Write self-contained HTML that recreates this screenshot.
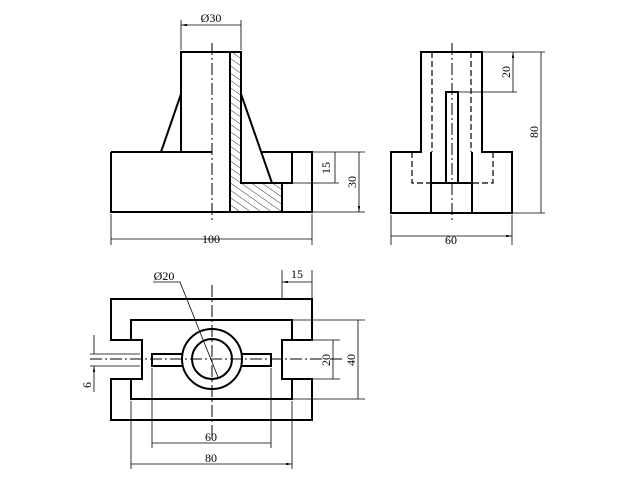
<!DOCTYPE html>
<html><head><style>html,body{margin:0;padding:0;background:#fff}svg{display:block}</style></head><body>
<svg width="640" height="480" viewBox="0 0 640 480" xmlns="http://www.w3.org/2000/svg" font-family="Liberation Serif, serif" font-size="12">
<defs>
<marker id="a" viewBox="0 0 10 4" refX="10" refY="2" markerWidth="8" markerHeight="3" orient="auto-start-reverse"><path d="M0,0L10,2L0,4z" fill="#000"/></marker>
<pattern id="h" width="6" height="6" patternUnits="userSpaceOnUse" patternTransform="rotate(-55)"><line x1="0" y1="0" x2="0" y2="6" stroke="#000" stroke-width="0.8"/></pattern>
</defs>
<g fill="none" stroke="#000">
<!-- FRONT VIEW -->
<path d="M230,52H241V183H282V212H230Z" fill="url(#h)" stroke="none"/>
<g stroke-width="2">
<path d="M111,152H212M262,152H312V212H111V152"/>
<path d="M181,152V52H241V183H292V152M230,52V212M282,183V212"/>
<path d="M181,94L161,152M241,94L272,183"/>
</g>
<path d="M212,43V223" stroke-dasharray="12,3,2,3"/>
<g stroke-width="0.8">
<path d="M181,50V20M241,50V20M111,214V245M312,214V245M312,152H365M292,183H339M312,212H365"/>
<path d="M181,25H241M111,239H312M335,152V183M359,152V212" marker-start="url(#a)" marker-end="url(#a)"/>
</g>
<!-- SIDE VIEW -->
<g stroke-width="2">
<path d="M391,152H421V52H482V152H512V213H391Z"/>
<path d="M431,152V213M472,152V213M431,183H472"/>
<rect x="446" y="92" width="12" height="91"/>
</g>
<g stroke-width="1.2" stroke-dasharray="6,3">
<path d="M432,52V152M471,52V152M412,152V183H431M493,152V183H472"/>
</g>
<path d="M452,43V223" stroke-dasharray="12,3,2,3"/>
<g stroke-width="0.8">
<path d="M482,52H545M458,92H517M512,213H545M391,215V245M512,215V245"/>
<path d="M513,52V92M541,52V213M391,236H512" marker-start="url(#a)" marker-end="url(#a)"/>
</g>
<!-- TOP VIEW -->
<g stroke-width="2">
<path d="M111,299H312V340H282V379H312V420H111V379H142V340H111Z"/>
<path d="M131,340V320H292V340M131,379V399H292V379"/>
<circle cx="212" cy="359" r="30"/>
<circle cx="212" cy="359" r="20"/>
<path d="M182,354H152V366H182M242,354H271V366H242"/>
</g>
<path d="M90,359H342" stroke-dasharray="12,3,2,3"/>
<path d="M212,285V437" stroke-dasharray="12,3,2,3"/>
<g stroke-width="0.8">
<path d="M153,282H180L218,377"/>
<path d="M282,299V270M312,299V270M292,340H340M292,379H340M292,320H365M292,399H365M152,368V448M271,368V448M131,401V469M292,401V469M90,354H140M90,366H140"/>
<path d="M282,282H312M333,340V379M358,320V399M152,443H271M131,464H292" marker-start="url(#a)" marker-end="url(#a)"/>
<path d="M94,335V354M94,392V366" marker-end="url(#a)"/>
</g>
</g>
<g fill="#000" text-anchor="middle">
<text x="211" y="22">Ø30</text>
<text x="211" y="243">100</text>
<text x="451" y="244">60</text>
<text x="164" y="280">Ø20</text>
<text x="297" y="278">15</text>
<text x="211" y="441">60</text>
<text x="211" y="462">80</text>
<text transform="translate(330,168) rotate(-90)">15</text>
<text transform="translate(356,182) rotate(-90)">30</text>
<text transform="translate(510,72) rotate(-90)">20</text>
<text transform="translate(538,132) rotate(-90)">80</text>
<text transform="translate(330,360) rotate(-90)">20</text>
<text transform="translate(355,360) rotate(-90)">40</text>
<text transform="translate(91,385) rotate(-90)">6</text>
</g>
</svg>
</body></html>
